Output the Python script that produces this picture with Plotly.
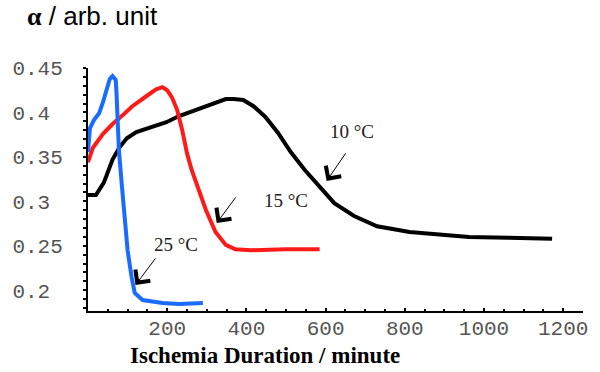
import plotly.graph_objects as go

# ---- data ----
black_x = [0, 20, 40, 62, 80, 98, 122, 162, 198, 230, 272, 312, 348, 368, 392, 418, 448, 480, 512, 548, 585, 622, 672, 730, 812, 898, 962, 1062, 1172]
black_y = [0.307, 0.307, 0.321, 0.347, 0.361, 0.371, 0.378, 0.384, 0.389, 0.396, 0.403, 0.4095, 0.415, 0.415, 0.414, 0.407, 0.395, 0.377, 0.3555, 0.335, 0.316, 0.298, 0.2835, 0.272, 0.2655, 0.262, 0.260, 0.259, 0.258]

red_x = [0, 12, 38, 62, 88, 112, 148, 172, 188, 200, 212, 225, 238, 250, 262, 280, 298, 322, 348, 372, 412, 498, 585]
red_y = [0.344, 0.36, 0.376, 0.387, 0.397, 0.407, 0.4185, 0.426, 0.4285, 0.425, 0.417, 0.403, 0.380, 0.354, 0.335, 0.313, 0.290, 0.2655, 0.251, 0.246, 0.245, 0.246, 0.246]

blue_x = [0, 5, 15, 28, 38, 48, 55, 62, 70, 72, 75, 78, 85, 92, 100, 110, 118, 138, 188, 230, 290]
blue_y = [0.3555, 0.3825, 0.3915, 0.399, 0.412, 0.4275, 0.4376, 0.441, 0.4365, 0.422, 0.3835, 0.358, 0.3205, 0.282, 0.245, 0.215, 0.197, 0.189, 0.1856, 0.1845, 0.1856]

y_tickvals = [0.2, 0.25, 0.3, 0.35, 0.4, 0.45]
y_ticktext = ["0.2\u00a0", "0.25", "0.3\u00a0", "0.35", "0.4\u00a0", "0.45"]
x_tickvals = [200, 400, 600, 800, 1000, 1200]
x_ticktext = ["200", "400", "600", "800", "1000", "1200"]

labels = ["10 °C", "15 °C", "25 °C"]

fig = go.Figure()
fig.add_trace(go.Scatter(x=black_x, y=black_y, mode="lines",
                         line=dict(color="#000000", width=4), showlegend=False))
fig.add_trace(go.Scatter(x=red_x, y=red_y, mode="lines",
                         line=dict(color="#ff1a1a", width=4), showlegend=False))
fig.add_trace(go.Scatter(x=blue_x, y=blue_y, mode="lines",
                         line=dict(color="#1a6cff", width=4), showlegend=False))

tickfont = dict(family="Liberation Mono", size=21, color="#555555")

fig.update_layout(
    width=600, height=372,
    margin=dict(l=88, r=12, t=68, b=61),
    paper_bgcolor="white", plot_bgcolor="white",
    title=dict(
        text="<span style='font-family:Liberation Serif;font-weight:bold'>α</span> / arb. unit",
        x=27/600, xanchor="left", xref="container",
        y=1-7/372, yanchor="top", yref="container",
        font=dict(family="Liberation Sans", size=26, color="#000000")),
    xaxis=dict(range=[0, 1250], showgrid=False, zeroline=False,
               showline=True, linecolor="#000000", linewidth=2,
               tickvals=x_tickvals, ticktext=x_ticktext,
               ticks="inside", ticklen=3, tickcolor="#000000", tickwidth=2,
               minor=dict(dtick=50, tick0=0, ticks="inside", ticklen=2, tickcolor="#000000", tickwidth=2),
               tickfont=tickfont, ticklabelstandoff=-3),
    yaxis=dict(range=[0.17663, 0.45], showgrid=False, zeroline=False,
               showline=True, linecolor="#000000", linewidth=2,
               tickvals=y_tickvals, ticktext=y_ticktext,
               ticks="outside", ticklen=3, tickcolor="#000000", tickwidth=2,
               minor=dict(dtick=0.01, tick0=0.2, ticks="outside", ticklen=3, tickcolor="#000000", tickwidth=2),
               tickfont=tickfont, ticklabelstandoff=16),
)

# axis title (positioned like the reference)
fig.add_annotation(text="<b>Ischemia Duration / minute</b>", xref="paper", yref="paper",
                   x=(266.5-88)/500, y=-(355-311)/243, xanchor="center", yanchor="middle",
                   showarrow=False, font=dict(family="Liberation Serif", size=23, color="#000000"))

# temperature labels
lab_pos = [(355, 131), (288, 200), (177, 244)]
for t, (px, py) in zip(labels, lab_pos):
    fig.add_annotation(text=t, xref="paper", yref="paper",
                       x=(px-88)/500, y=1-(py-68)/243, xanchor="center", yanchor="middle",
                       showarrow=False, font=dict(family="Liberation Serif", size=19, color="#222222"))

# arrows pointing to the curves
arrows = [(602.5, 0.3229, 20, -29), (325, 0.2756, 20, -27), (120, 0.2059, 21, -28)]
for x, y, ax, ay in arrows:
    fig.add_annotation(x=x, y=y, xref="x", yref="y", text="", showarrow=True,
                       ax=ax, ay=ay, arrowhead=4, arrowsize=3.6, arrowwidth=1.0,
                       arrowcolor="#000000", standoff=0)

fig.write_html("out.html")
